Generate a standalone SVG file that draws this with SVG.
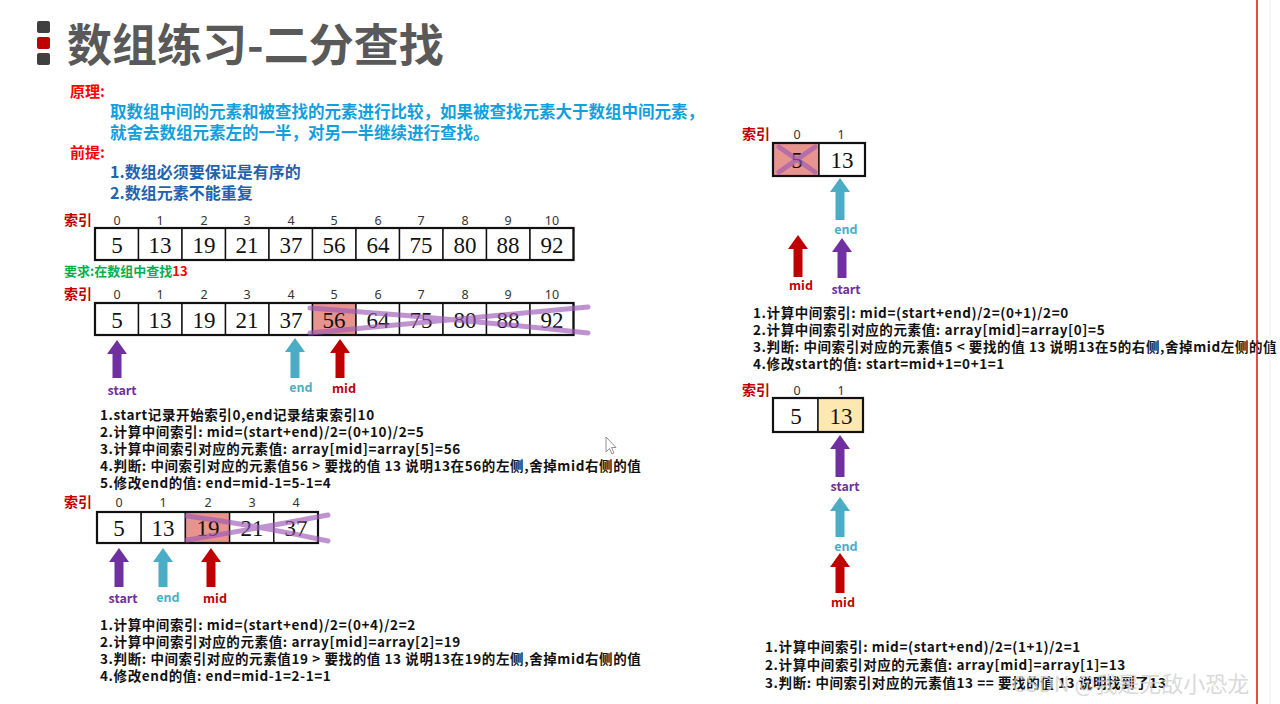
<svg xmlns="http://www.w3.org/2000/svg" width="1280" height="704" viewBox="0 0 1280 704">
<style>
.t{font-family:"Noto Sans CJK SC","Noto Sans",sans-serif;font-weight:700}
.title{font-size:45px;fill:#595959}
.lbl{font-size:15px;fill:#ff0000}
.p1{font-size:16.5px;fill:#12a0dc}
.p2{font-size:16px;fill:#1f64b0}
.idxl{font-size:14px;fill:#c00000}
.idx{font-family:"Noto Sans","DejaVu Sans",sans-serif;font-size:12.5px;fill:#333;text-anchor:middle}
.num{font-family:"Liberation Serif","DejaVu Serif",serif;font-size:23px;fill:#111;text-anchor:middle}
.box{fill:none;stroke:#111;stroke-width:2.2}
.cell{fill:#fff;stroke:#111;stroke-width:1.4}
.hl{fill:#e8948e}
.yl{fill:#fde8b2}
.x{stroke:#9b59b6;stroke-opacity:0.65;stroke-width:5;stroke-linecap:round;fill:none}
.step{font-size:13.5px;fill:#111;letter-spacing:0.6px}
.ps{fill:#7030a0}.pe{fill:#4bacc6}.pm{fill:#c00000}
.ls{font-size:12.5px;fill:#7030a0;text-anchor:middle}
.le{font-size:12.5px;fill:#4bacc6;text-anchor:middle}
.lm{font-size:12.5px;fill:#c00000;text-anchor:middle}
</style>
<rect width="1280" height="704" fill="#fff"/>

<g id="title">
<rect x="37" y="21" width="13" height="12" rx="2" fill="#404040"/>
<rect x="37" y="37" width="13" height="12" rx="2" fill="#c00000"/>
<rect x="37" y="53" width="13" height="12" rx="2" fill="#404040"/>
<text class="t title" x="67" y="62">数组练习-二分查找</text>
</g>

<g id="principle">
<text class="t lbl" x="70" y="97">原理:</text>
<text class="t p1" x="110" y="118">取数组中间的元素和被查找的元素进行比较，如果被查找元素大于数组中间元素，</text>
<text class="t p1" x="110" y="139">就舍去数组元素左的一半，对另一半继续进行查找。</text>
<text class="t lbl" x="70" y="158">前提:</text>
<text class="t p2" x="110" y="178">1.数组必须要保证是有序的</text>
<text class="t p2" x="110" y="199">2.数组元素不能重复</text>
</g>

<g id="array1">
<text class="t idxl" x="64" y="225">索引</text>
<text class="idx" x="117" y="225">0</text><text class="idx" x="160" y="225">1</text><text class="idx" x="204" y="225">2</text><text class="idx" x="247" y="225">3</text><text class="idx" x="291" y="225">4</text><text class="idx" x="334" y="225">5</text><text class="idx" x="378" y="225">6</text><text class="idx" x="421" y="225">7</text><text class="idx" x="465" y="225">8</text><text class="idx" x="508" y="225">9</text><text class="idx" x="552" y="225">10</text>
<rect class="cell" x="95" y="228" width="43.5" height="32"/><rect class="cell" x="138.5" y="228" width="43.5" height="32"/><rect class="cell" x="182" y="228" width="43.5" height="32"/><rect class="cell" x="225.5" y="228" width="43.5" height="32"/><rect class="cell" x="269" y="228" width="43.5" height="32"/><rect class="cell" x="312.5" y="228" width="43.5" height="32"/><rect class="cell" x="356" y="228" width="43.5" height="32"/><rect class="cell" x="399.5" y="228" width="43.5" height="32"/><rect class="cell" x="443" y="228" width="43.5" height="32"/><rect class="cell" x="486.5" y="228" width="43.5" height="32"/><rect class="cell" x="530" y="228" width="43.5" height="32"/>
<rect class="box" x="95" y="228" width="478.5" height="32"/>
<text class="num" x="117" y="253">5</text><text class="num" x="160" y="253">13</text><text class="num" x="204" y="253">19</text><text class="num" x="247" y="253">21</text><text class="num" x="291" y="253">37</text><text class="num" x="334" y="253">56</text><text class="num" x="378" y="253">64</text><text class="num" x="421" y="253">75</text><text class="num" x="465" y="253">80</text><text class="num" x="508" y="253">88</text><text class="num" x="552" y="253">92</text>
</g>

<g id="requirement">
<text class="t" x="64" y="276" font-size="13" fill="#00b050">要求:在数组中查找<tspan fill="#ff0000">13</tspan></text>
</g>

<g id="array2">
<text class="t idxl" x="64" y="299">索引</text>
<text class="idx" x="117" y="299">0</text><text class="idx" x="160" y="299">1</text><text class="idx" x="204" y="299">2</text><text class="idx" x="247" y="299">3</text><text class="idx" x="291" y="299">4</text><text class="idx" x="334" y="299">5</text><text class="idx" x="378" y="299">6</text><text class="idx" x="421" y="299">7</text><text class="idx" x="465" y="299">8</text><text class="idx" x="508" y="299">9</text><text class="idx" x="552" y="299">10</text>
<rect class="cell" x="95" y="303" width="43.5" height="32"/><rect class="cell" x="138.5" y="303" width="43.5" height="32"/><rect class="cell" x="182" y="303" width="43.5" height="32"/><rect class="cell" x="225.5" y="303" width="43.5" height="32"/><rect class="cell" x="269" y="303" width="43.5" height="32"/><rect class="cell hl" x="312.5" y="303" width="43.5" height="32"/><rect class="cell" x="356" y="303" width="43.5" height="32"/><rect class="cell" x="399.5" y="303" width="43.5" height="32"/><rect class="cell" x="443" y="303" width="43.5" height="32"/><rect class="cell" x="486.5" y="303" width="43.5" height="32"/><rect class="cell" x="530" y="303" width="43.5" height="32"/>
<rect class="box" x="95" y="303" width="478.5" height="32"/>
<text class="num" x="117" y="328">5</text><text class="num" x="160" y="328">13</text><text class="num" x="204" y="328">19</text><text class="num" x="247" y="328">21</text><text class="num" x="291" y="328">37</text><text class="num" x="334" y="328">56</text><text class="num" x="378" y="328">64</text><text class="num" x="421" y="328">75</text><text class="num" x="465" y="328">80</text><text class="num" x="508" y="328">88</text><text class="num" x="552" y="328">92</text>
<path class="x" d="M310,308 Q450,318 588,333 M310,333 Q450,320 588,307"/>
</g>

<g id="steps1">
<text class="t step" x="100" y="420">1.start记录开始索引0,end记录结束索引10</text>
<text class="t step" x="100" y="437">2.计算中间索引: mid=(start+end)/2=(0+10)/2=5</text>
<text class="t step" x="100" y="454">3.计算中间索引对应的元素值: array[mid]=array[5]=56</text>
<text class="t step" x="100" y="471">4.判断: 中间索引对应的元素值56 &gt; 要找的值 13 说明13在56的左侧,舍掉mid右侧的值</text>
<text class="t step" x="100" y="488">5.修改end的值: end=mid-1=5-1=4</text>
</g>

<g id="array3">
<text class="t idxl" x="64" y="507">索引</text>
<text class="idx" x="119" y="507">0</text><text class="idx" x="163" y="507">1</text><text class="idx" x="208" y="507">2</text><text class="idx" x="252" y="507">3</text><text class="idx" x="296" y="507">4</text>
<rect class="cell" x="97" y="512" width="44.2" height="31"/><rect class="cell" x="141.2" y="512" width="44.2" height="31"/><rect class="cell hl" x="185.4" y="512" width="44.2" height="31"/><rect class="cell" x="229.6" y="512" width="44.2" height="31"/><rect class="cell" x="273.8" y="512" width="44.2" height="31"/>
<rect class="box" x="97" y="512" width="221" height="31"/>
<text class="num" x="119" y="536">5</text><text class="num" x="163" y="536">13</text><text class="num" x="208" y="536">19</text><text class="num" x="252" y="536">21</text><text class="num" x="296" y="536">37</text>
<path class="x" d="M187,516 Q260,526 328,541 M187,540 Q260,528 328,515"/>
</g>

<g id="steps2">
<text class="t step" x="100" y="630">1.计算中间索引: mid=(start+end)/2=(0+4)/2=2</text>
<text class="t step" x="100" y="647">2.计算中间索引对应的元素值: array[mid]=array[2]=19</text>
<text class="t step" x="100" y="664">3.判断: 中间索引对应的元素值19 &gt; 要找的值 13 说明13在19的左侧,舍掉mid右侧的值</text>
<text class="t step" x="100" y="681">4.修改end的值: end=mid-1=2-1=1</text>
</g>

<g id="array4">
<text class="t idxl" x="742" y="139">索引</text>
<text class="idx" x="797" y="139">0</text><text class="idx" x="841" y="139">1</text>
<rect class="cell hl" x="773" y="143" width="46" height="33"/><rect class="cell" x="819" y="143" width="46" height="33"/>
<rect class="box" x="773" y="143" width="92" height="33"/>
<text class="num" x="797" y="168">5</text><text class="num" x="842" y="168">13</text>
<path class="x" d="M779,147 L815,172 M779,172 L815,147"/>
</g>

<g id="steps3">
<text class="t step" x="753" y="318">1.计算中间索引: mid=(start+end)/2=(0+1)/2=0</text>
<text class="t step" x="753" y="335">2.计算中间索引对应的元素值: array[mid]=array[0]=5</text>
<text class="t step" x="753" y="352">3.判断: 中间索引对应的元素值5 &lt; 要找的值 13 说明13在5的右侧,舍掉mid左侧的值</text>
<text class="t step" x="753" y="369">4.修改start的值: start=mid+1=0+1=1</text>
</g>

<g id="array5">
<text class="t idxl" x="742" y="395">索引</text>
<text class="idx" x="797" y="395">0</text><text class="idx" x="841" y="395">1</text>
<rect class="cell" x="773" y="398" width="45" height="34"/><rect class="cell yl" x="818" y="398" width="45" height="34"/>
<rect class="box" x="773" y="398" width="90" height="34"/>
<text class="num" x="796" y="424">5</text><text class="num" x="841" y="424">13</text>
</g>

<g id="steps4">
<text class="t step" x="765" y="652">1.计算中间索引: mid=(start+end)/2=(1+1)/2=1</text>
<text class="t step" x="765" y="670">2.计算中间索引对应的元素值: array[mid]=array[1]=13</text>
<text class="t step" x="765" y="688">3.判断: 中间索引对应的元素值13 == 要找的值 13 说明找到了13</text>
</g>

<g id="connectors">
<path class="ps" d="M117,340 L127,354 L121.5,354 L121.5,378 L112.5,378 L112.5,354 L107,354 Z"/>
<path class="pe" d="M295,338 L305,352 L299.5,352 L299.5,378 L290.5,378 L290.5,352 L285,352 Z"/>
<path class="pm" d="M340,339 L350,353 L344.5,353 L344.5,378 L335.5,378 L335.5,353 L330,353 Z"/>
<path class="ps" d="M119,548 L129,562 L123.5,562 L123.5,587 L114.5,587 L114.5,562 L109,562 Z"/>
<path class="pe" d="M163,548 L173,562 L167.5,562 L167.5,587 L158.5,587 L158.5,562 L153,562 Z"/>
<path class="pm" d="M211,548 L221,562 L215.5,562 L215.5,587 L206.5,587 L206.5,562 L201,562 Z"/>
<path class="pe" d="M840,178 L850,192 L844.5,192 L844.5,220 L835.5,220 L835.5,192 L830,192 Z"/>
<path class="pm" d="M798,235 L808,249 L802.5,249 L802.5,277 L793.5,277 L793.5,249 L788,249 Z"/>
<path class="ps" d="M842,238 L852,252 L846.5,252 L846.5,278 L837.5,278 L837.5,252 L832,252 Z"/>
<path class="ps" d="M840,435 L850,449 L844.5,449 L844.5,477 L835.5,477 L835.5,449 L830,449 Z"/>
<path class="pe" d="M840,497 L850,511 L844.5,511 L844.5,537 L835.5,537 L835.5,511 L830,511 Z"/>
<path class="pm" d="M840,553 L850,567 L844.5,567 L844.5,593 L835.5,593 L835.5,567 L830,567 Z"/>
</g>

<g id="pointer-labels">
<text class="t ls" x="122" y="395">start</text>
<text class="t le" x="301" y="392">end</text>
<text class="t lm" x="344" y="393">mid</text>
<text class="t ls" x="123" y="603">start</text>
<text class="t le" x="168" y="602">end</text>
<text class="t lm" x="215" y="603">mid</text>
<text class="t le" x="846" y="234">end</text>
<text class="t lm" x="801" y="290">mid</text>
<text class="t ls" x="846" y="294">start</text>
<text class="t ls" x="845" y="491">start</text>
<text class="t le" x="846" y="551">end</text>
<text class="t lm" x="843" y="607">mid</text>
</g>

<g id="cursor">
<path d="M606,437 L606,452 L609.5,448.5 L612,454 L614,453 L611.5,447.5 L616,447.5 Z" fill="#fff" stroke="#777" stroke-width="0.8"/>
</g>

<g id="watermark">
<text x="1012" y="692" font-family="Noto Sans CJK SC,sans-serif" font-size="22" fill="#d0d0d0" fill-opacity="0.8">CSDN @我是无敌小恐龙</text>
</g>

<line x1="1257" y1="0" x2="1257" y2="704" stroke="#e02020" stroke-width="1.6"/>
<line x1="1270" y1="0" x2="1270" y2="704" stroke="#f0f0f0" stroke-width="1"/>
</svg>
